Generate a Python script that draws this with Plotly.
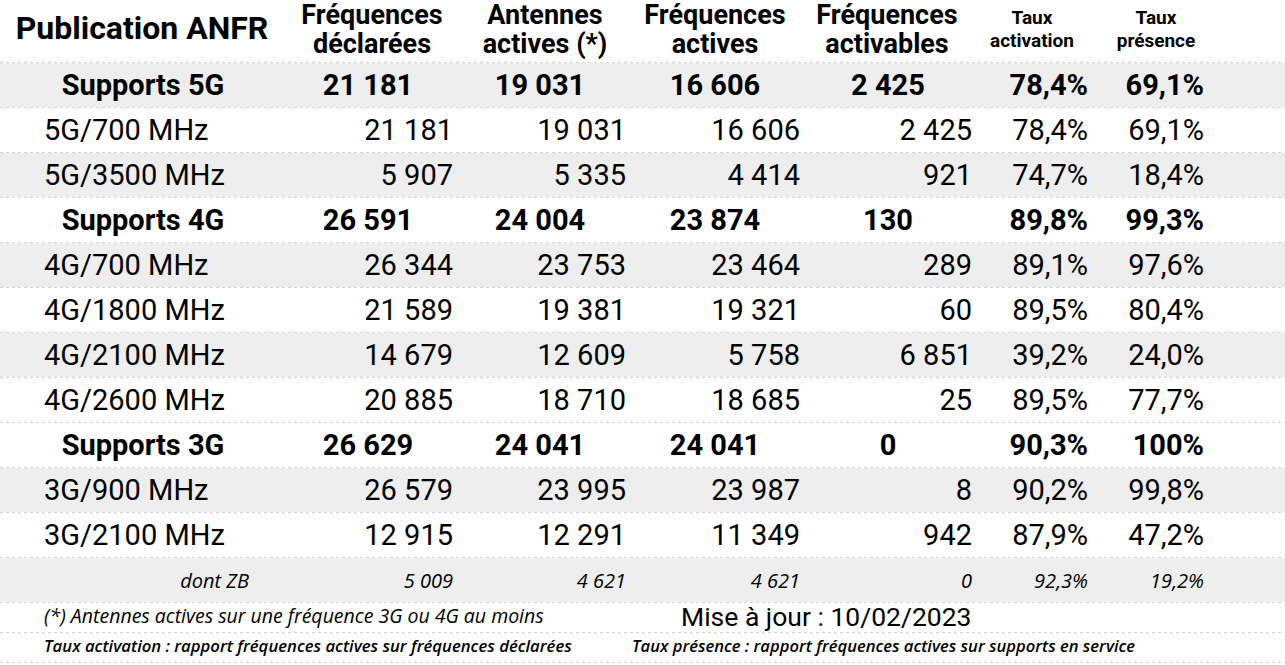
import plotly.graph_objects as go

# ---------------- data ----------------
row_labels = ["Supports 5G", "5G/700 MHz", "5G/3500 MHz", "Supports 4G", "4G/700 MHz",
              "4G/1800 MHz", "4G/2100 MHz", "4G/2600 MHz", "Supports 3G", "3G/900 MHz",
              "3G/2100 MHz", "dont ZB"]
freq_declarees = [21181, 21181, 5907, 26591, 26344, 21589, 14679, 20885, 26629, 26579, 12915, 5009]
antennes_actives = [19031, 19031, 5335, 24004, 23753, 19381, 12609, 18710, 24041, 23995, 12291, 4621]
freq_actives = [16606, 16606, 4414, 23874, 23464, 19321, 5758, 18685, 24041, 23987, 11349, 4621]
freq_activables = [2425, 2425, 921, 130, 289, 60, 6851, 25, 0, 8, 942, 0]
taux_activation = [78.4, 78.4, 74.7, 89.8, 89.1, 89.5, 39.2, 89.5, 90.3, 90.2, 87.9, 92.3]
taux_presence = [69.1, 69.1, 18.4, 99.3, 97.6, 80.4, 24.0, 77.7, 100, 99.8, 47.2, 19.2]
row_kind = ["bold", "n", "n", "bold", "n", "n", "n", "n", "bold", "n", "n", "small"]
row_shaded = [1, 0, 1, 0, 1, 0, 1, 0, 0, 1, 0, 1]

title_text = "Publication ANFR"
header_line1 = ["Fréquences", "Antennes", "Fréquences", "Fréquences", "Taux", "Taux"]
header_line2 = ["déclarées", "actives (*)", "actives", "activables", "activation", "présence"]
note_1 = "(*) Antennes actives sur une fréquence 3G ou 4G au moins"
update_text = "Mise à jour : 10/02/2023"
note_2 = "Taux activation : rapport fréquences actives sur fréquences déclarées"
note_3 = "Taux présence : rapport fréquences actives sur supports en service"

# ---------------- layout constants ----------------
W, H = 1285, 665
HEADER_H = 62
ROW_H = 45
FOOT_H = 30
TEXT_DY = 3
n_rows = len(row_labels)
row_centers = [HEADER_H + (i + 0.5) * ROW_H for i in range(n_rows)]
text_y = [c + TEXT_DY for c in row_centers]
table_bottom = HEADER_H + n_rows * ROW_H
boundaries = [HEADER_H + i * ROW_H for i in range(n_rows + 1)] + [table_bottom + FOOT_H, table_bottom + 2 * FOOT_H]

col_right = [453, 626, 800, 972, 1088, 1204]      # right edge of normal cells
col_center = [368, 540, 715, 888, 1032, 1156]     # centre of bold totals
hdr_center = [372, 545, 715, 887, 1032, 1156]     # centre of header texts
label_left = 44
label_center = 143
zb_right = 249

FONT = "Roboto"
FOOT_FONT = "Open Sans"
BLACK = "#000000"
BODY = 29
SMALL = 20


def fmt_int(v):
    return f"{v:,}".replace(",", " ")


def fmt_pct(v):
    if v >= 100:
        return f"{v:.0f}%"
    return f"{v:.1f}".replace(".", ",") + "%"


columns = [
    [fmt_int(v) for v in freq_declarees],
    [fmt_int(v) for v in antennes_actives],
    [fmt_int(v) for v in freq_actives],
    [fmt_int(v) for v in freq_activables],
    [fmt_pct(v) for v in taux_activation],
    [fmt_pct(v) for v in taux_presence],
]

fig = go.Figure()

# shaded row backgrounds (horizontal bars)
shade_y = [row_centers[i] for i in range(n_rows) if row_shaded[i]]
fig.add_trace(go.Bar(
    x=[W] * len(shade_y), y=shade_y, base=0, orientation="h", width=ROW_H - 1,
    marker=dict(color="#eeeeee", line=dict(width=0)), hoverinfo="skip", showlegend=False,
))


def add_text(xs, ys, texts, pos, size, weight="normal", style="normal", family=FONT, color=BLACK):
    fig.add_trace(go.Scatter(
        x=xs, y=ys, text=texts, mode="text", textposition=pos,
        textfont=dict(family=family, size=size, weight=weight, style=style, color=color),
        hoverinfo="skip", showlegend=False, cliponaxis=False,
    ))


# header
add_text([142], [31], [title_text], "middle center", 32, weight="bold")
add_text(hdr_center[:4], [17] * 4, header_line1[:4], "middle center", 27, weight="bold")
add_text(hdr_center[:4], [46] * 4, header_line2[:4], "middle center", 27, weight="bold")
add_text(hdr_center[4:], [19] * 2, header_line1[4:], "middle center", 19, weight="bold")
add_text(hdr_center[4:], [42] * 2, header_line2[4:], "middle center", 19, weight="bold")

# body
idx_bold = [i for i in range(n_rows) if row_kind[i] == "bold"]
idx_norm = [i for i in range(n_rows) if row_kind[i] == "n"]
idx_small = [i for i in range(n_rows) if row_kind[i] == "small"]

# labels
add_text([label_center] * len(idx_bold), [text_y[i] for i in idx_bold],
         [row_labels[i] for i in idx_bold], "middle center", BODY, weight="bold")
add_text([label_left] * len(idx_norm), [text_y[i] for i in idx_norm],
         [row_labels[i] for i in idx_norm], "middle right", BODY)
add_text([zb_right] * len(idx_small), [text_y[i] for i in idx_small],
         [row_labels[i] for i in idx_small], "middle left", SMALL, style="italic", family=FOOT_FONT)

for c, vals in enumerate(columns):
    if c < 4:
        add_text([col_center[c]] * len(idx_bold), [text_y[i] for i in idx_bold],
                 [vals[i] for i in idx_bold], "middle center", BODY, weight="bold")
    else:
        add_text([col_right[c]] * len(idx_bold), [text_y[i] for i in idx_bold],
                 [vals[i] for i in idx_bold], "middle left", BODY, weight="bold")
    add_text([col_right[c]] * len(idx_norm), [text_y[i] for i in idx_norm],
             [vals[i] for i in idx_norm], "middle left", BODY)
    add_text([col_right[c]] * len(idx_small), [text_y[i] for i in idx_small],
             [vals[i] for i in idx_small], "middle left", SMALL, style="italic", family=FOOT_FONT)

# footer
foot1 = table_bottom + FOOT_H / 2
foot2 = table_bottom + 1.5 * FOOT_H
add_text([label_left], [foot1 + 1], [note_1], "middle right", 19.5, style="italic", family=FOOT_FONT)
add_text([681], [foot1 + 2], [update_text], "middle right", 26.5)
add_text([label_left], [foot2 + 1], [note_2], "middle right", 16.7, weight=600, style="italic", family=FOOT_FONT)
add_text([632], [foot2 + 1], [note_3], "middle right", 16.6, weight=600, style="italic", family=FOOT_FONT)

fig.update_layout(
    width=W, height=H, margin=dict(l=0, r=0, t=0, b=0),
    paper_bgcolor="white", plot_bgcolor="white", bargap=0,
    xaxis=dict(range=[0, W], visible=False, fixedrange=True),
    yaxis=dict(range=[H, 0], showticklabels=False, ticks="", zeroline=False,
               showline=False, tickmode="array", tickvals=boundaries,
               showgrid=True, gridcolor="#d4d4d4", gridwidth=1, griddash="dot",
               fixedrange=True),
)

fig.write_html("out.html", config={"displayModeBar": False},
               post_script="document.body.style.margin='0';")
